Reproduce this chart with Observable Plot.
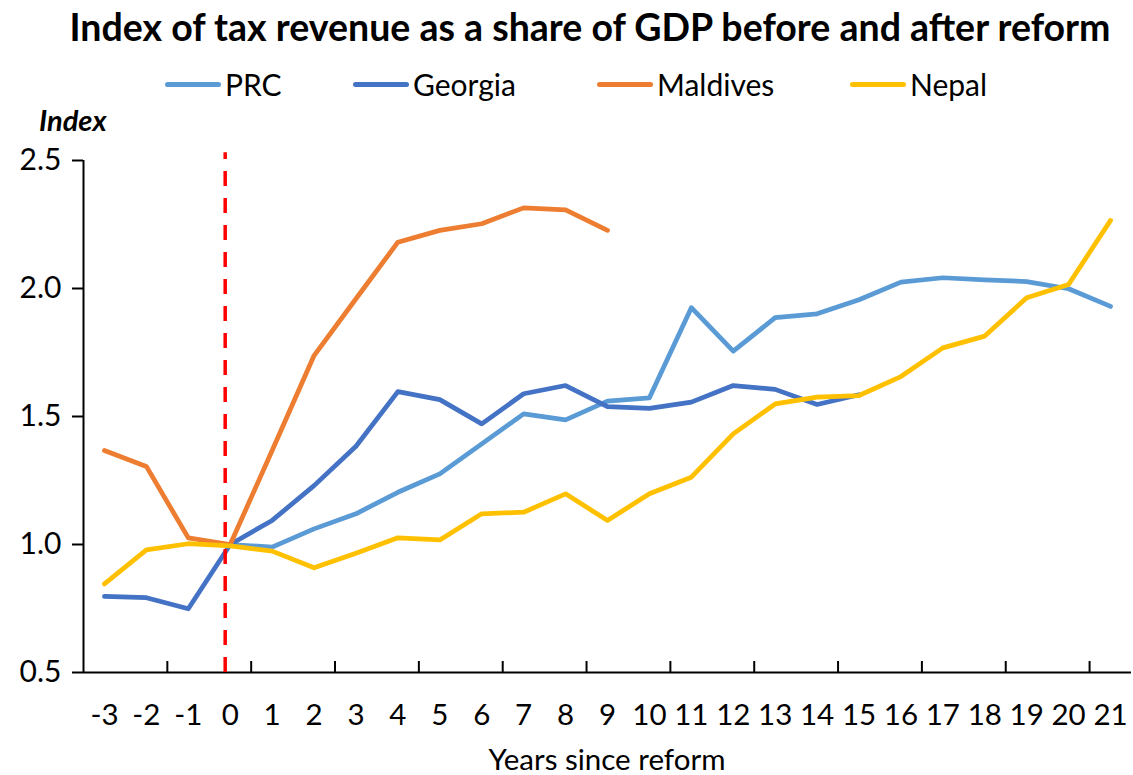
<!DOCTYPE html>
<html>
<head>
<meta charset="utf-8">
<script src="https://cdn.jsdelivr.net/npm/d3@7"></script>
<script src="https://cdn.jsdelivr.net/npm/@observablehq/plot@0.6"></script>
<style>
  body { margin: 0; background: #fff; font-family: Lato, "Open Sans", sans-serif; color: #000; }
  #wrap { position: relative; width: 1133px; height: 775px; overflow: hidden; }
  #chart { position: absolute; left: 0; top: 0; }
  #title { position: absolute; left: 0; top: 4px; width: 1180px; text-align: center; font-weight: bold; font-size: 37.5px; white-space: nowrap; }
  #legend { position: absolute; left: 0; top: 66px; width: 1133px; height: 44px; font-size: 30px; }
  .item { position: absolute; top: 0; display: flex; align-items: center; white-space: nowrap; }
  .swatch { width: 56px; height: 5px; border-radius: 3px; margin-right: 4px; }
  #ylabel { position: absolute; left: 39px; top: 102px; font-weight: bold; font-style: italic; font-size: 29px; }
  #xlabel { position: absolute; left: 83px; width: 1048px; top: 744px; line-height: 1; text-align: center; font-size: 29.5px; }
</style>
</head>
<body>
<div id="wrap">
  <div id="chart"></div>
  <div id="title"></div>
  <div id="legend"></div>
  <div id="ylabel"></div>
  <div id="xlabel"></div>
</div>
<script>
// ---- data ----
const titleText = "Index of tax revenue as a share of GDP before and after reform";
const yAxisLabel = "Index";
const xAxisLabel = "Years since reform";
const years = [-3, -2, -1, 0, 1, 2, 3, 4, 5, 6, 7, 8, 9, 10, 11, 12, 13, 14, 15, 16, 17, 18, 19, 20, 21];
const seriesNames = ["PRC", "Georgia", "Maldives", "Nepal"];
const seriesColors = ["#5B9BD5", "#4472C4", "#ED7D31", "#FFC000"];
const prc      = [null, null, null, 1.00, 0.99, 1.061, 1.12, 1.204, 1.276, 1.393, 1.51, 1.487, 1.56, 1.573, 1.925, 1.755, 1.886, 1.901, 1.956, 2.025, 2.042, 2.034, 2.027, 1.999, 1.93];
const georgia  = [0.797, 0.792, 0.749, 1.00, 1.094, 1.23, 1.384, 1.597, 1.566, 1.471, 1.589, 1.621, 1.539, 1.532, 1.556, 1.621, 1.606, 1.547, 1.585, null, null, null, null, null, null];
const maldives = [1.367, 1.305, 1.026, 1.00, 1.367, 1.738, 1.96, 2.181, 2.227, 2.253, 2.315, 2.307, 2.227, null, null, null, null, null, null, null, null, null, null, null, null];
const nepal    = [0.846, 0.979, 1.003, 0.995, 0.974, 0.909, 0.966, 1.026, 1.018, 1.12, 1.126, 1.198, 1.094, 1.198, 1.263, 1.432, 1.549, 1.576, 1.582, 1.656, 1.768, 1.814, 1.964, 2.016, 2.266];
const yTicks = [0.5, 1.0, 1.5, 2.0, 2.5];
const xDomain = [-3.5, 21.5];
const yDomain = [0.5, 2.5];
const xTickMarks = [-1.5, 0.5, 2.5, 4.5, 6.5, 8.5, 10.5, 12.5, 14.5, 16.5, 18.5, 20.5];
const reformLine = -0.12;
const reformLineTop = 2.53;

// ---- layout (not data) ----
const legendLeft = [165, 353, 597, 850];

// ---- build table ----
const valuesBySeries = [prc, georgia, maldives, nepal];
const data = [];
seriesNames.forEach((name, i) => {
  valuesBySeries[i].forEach((v, j) => {
    if (v != null) data.push({series: name, year: years[j], value: v});
  });
});

const plot = Plot.plot({
  width: 1133,
  height: 775,
  marginTop: 160,
  marginBottom: 103,
  marginLeft: 83,
  marginRight: 2,
  style: {fontFamily: "Lato, 'Open Sans', sans-serif", color: "#000", background: "transparent", overflow: "visible"},
  x: {domain: xDomain},
  y: {domain: yDomain},
  color: {domain: seriesNames, range: seriesColors},
  marks: [
    Plot.axisY({ticks: yTicks, tickFormat: d3.format(".1f"), tickSize: 11, tickPadding: 11, fontSize: 30, strokeWidth: 2, label: null}),
    Plot.axisX({ticks: years, tickFormat: d => String(d), tickSize: 0, tickPadding: 32, fontSize: 29.5, label: null}),
    Plot.axisX({ticks: xTickMarks, tickSize: 11, dy: -11, tickFormat: () => "", strokeWidth: 2, label: null}),
    Plot.ruleY([yDomain[0]], {stroke: "#000", strokeWidth: 2}),
    Plot.ruleX([xDomain[0]], {stroke: "#000", strokeWidth: 2}),
    Plot.line(data, {x: "year", y: "value", z: "series", stroke: "series", strokeWidth: 4.75, strokeLinecap: "round", strokeLinejoin: "round"}),
    Plot.ruleX([reformLine], {y1: yDomain[0], y2: reformLineTop, stroke: "#FF0000", strokeWidth: 3.5, strokeDasharray: "15,12"})
  ]
});
document.getElementById("chart").appendChild(plot);

document.getElementById("title").textContent = titleText;
document.getElementById("ylabel").textContent = yAxisLabel;
document.getElementById("xlabel").textContent = xAxisLabel;
const legend = document.getElementById("legend");
seriesNames.forEach((name, i) => {
  const item = document.createElement("div");
  item.className = "item";
  item.style.left = legendLeft[i] + "px";
  const sw = document.createElement("div");
  sw.className = "swatch";
  sw.style.background = seriesColors[i];
  const label = document.createElement("span");
  label.textContent = name;
  item.appendChild(sw);
  item.appendChild(label);
  legend.appendChild(item);
});
</script>
</body>
</html>
